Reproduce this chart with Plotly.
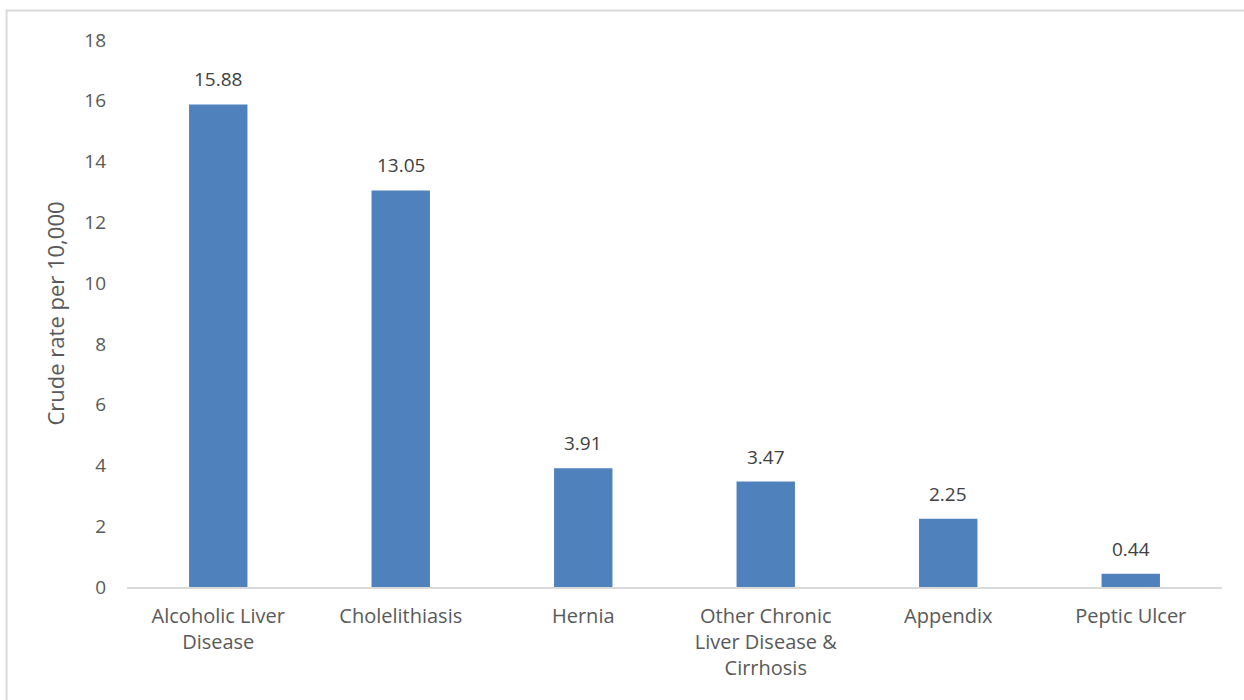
import plotly.graph_objects as go

# categories and crude rates
categories = ["Alcoholic Liver<br>Disease", "Cholelithiasis", "Hernia",
              "Other Chronic<br>Liver Disease &<br>Cirrhosis", "Appendix", "Peptic Ulcer"]
rates = [15.88, 13.05, 3.91, 3.47, 2.25, 0.44]
y_ticks = [0, 2, 4, 6, 8, 10, 12, 14, 16, 18]

font_name = "Open Sans, Lato, sans-serif"

fig = go.Figure(go.Bar(
    x=categories,
    y=rates,
    marker=dict(color="#4F81BD", line=dict(width=0)),
    width=0.32,
    hoverinfo="x+y",
))

# value labels sit a little above each bar
for c, r in zip(categories, rates):
    fig.add_annotation(x=c, y=r, text=f"{r:.2f}", showarrow=False,
                       yanchor="bottom", yshift=10,
                       font=dict(size=19, color="#404040", family=font_name))

fig.update_layout(
    width=1244, height=700,
    margin=dict(l=127, r=22, t=40, b=113),
    plot_bgcolor="white",
    paper_bgcolor="white",
    font=dict(family=font_name, size=20, color="#595959"),
    showlegend=False,
)
fig.update_yaxes(
    range=[0, 18], tickvals=y_ticks, showgrid=False, zeroline=False,
    showline=False, ticks="", ticklabelstandoff=20,
    title=dict(text="Crude rate per 10,000", font=dict(size=22, color="#595959"), standoff=13),
    tickfont=dict(size=19, color="#595959"),
)
fig.update_xaxes(
    showgrid=False, showline=True, linecolor="#D9D9D9", linewidth=2,
    ticks="", ticklabelstandoff=10, tickfont=dict(size=20, color="#595959"), tickangle=0,
)

# light frame around the chart area, as in the source export
fig.add_shape(type="rect", xref="paper", yref="paper",
              x0=-0.11, x1=1.1, y0=-0.3, y1=1.054,
              line=dict(color="#D9D9D9", width=2), fillcolor="rgba(0,0,0,0)", layer="below")

# drop the default page margin so the figure sits at the window corner
fig.write_html("out.html", config={"displayModeBar": False},
               post_script="document.body.style.margin='0';")
